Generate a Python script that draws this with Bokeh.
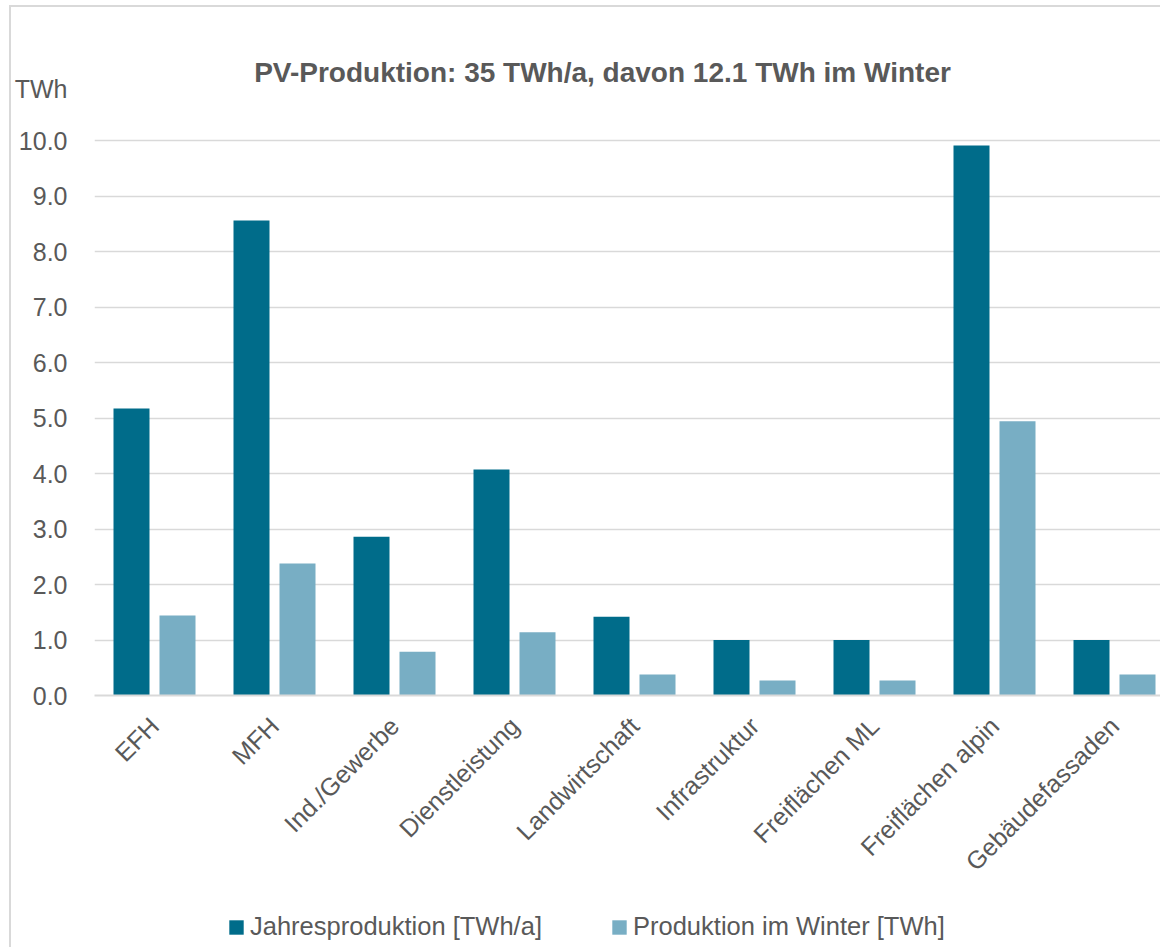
import math
from bokeh.plotting import figure
from bokeh.layouts import column
from bokeh.models import Range1d, FixedTicker, Label, Legend, LegendItem
from bokeh.embed import file_html
from bokeh.resources import INLINE

categories = ["EFH", "MFH", "Ind./Gewerbe", "Dienstleistung", "Landwirtschaft",
              "Infrastruktur", "Freiflächen ML", "Freiflächen alpin", "Gebäudefassaden"]
jahresproduktion = [5.17, 8.56, 2.86, 4.07, 1.42, 1.0, 1.0, 9.91, 1.0]
winterproduktion = [1.44, 2.38, 0.79, 1.14, 0.38, 0.27, 0.27, 4.94, 0.38]
y_ticks = [0, 1, 2, 3, 4, 5, 6, 7, 8, 9, 10]
y_tick_labels = ["0.0", "1.0", "2.0", "3.0", "4.0", "5.0", "6.0", "7.0", "8.0", "9.0", "10.0"]
title_text = "PV-Produktion: 35 TWh/a, davon 12.1 TWh im Winter"
y_unit = "TWh"
series_names = ["Jahresproduktion [TWh/a]", "Produktion im Winter [TWh]"]

DARK = "#006C8A"
LIGHT = "#78AEC4"
GRAY = "#595959"
GRID = "#d9d9d9"
FONT = "Liberation Sans"

MARGIN_L, MARGIN_T, BORDER = 9, 5, 2
OX, OY = MARGIN_L + BORDER, MARGIN_T + BORDER
PX_PER_CAT = 120.0
PX_PER_UNIT = 55.5
W, H = 1160 - OX, 947 - OY
FRAME_LEFT = 94 - OX
FRAME_BOTTOM = 695 - OY
H1 = FRAME_BOTTOM + 200
H2 = H - H1

x_end = -0.5 + (W - FRAME_LEFT) / PX_PER_CAT
y_end = FRAME_BOTTOM / PX_PER_UNIT

p = figure(width=W, height=H1, output_backend="svg", toolbar_location=None,
           x_range=Range1d(-0.5, x_end), y_range=Range1d(0, y_end),
           min_border_left=FRAME_LEFT, min_border_right=0,
           min_border_top=0, min_border_bottom=H1 - FRAME_BOTTOM)

xs = list(range(len(categories)))
off = 23 / PX_PER_CAT
bw = 36 / PX_PER_CAT
r1 = p.vbar(x=[x - off for x in xs], top=jahresproduktion, width=bw,
            fill_color=DARK, line_color=None)
r2 = p.vbar(x=[x + off for x in xs], top=winterproduktion, width=bw,
            fill_color=LIGHT, line_color=None)

p.outline_line_color = None
p.xgrid.grid_line_color = None
p.ygrid.grid_line_color = GRID
p.ygrid.grid_line_width = 1.5
p.ygrid.ticker = FixedTicker(ticks=y_ticks)

unit_y = (695 - 88) / PX_PER_UNIT
ya = p.yaxis[0]
ya.ticker = FixedTicker(ticks=y_ticks + [unit_y])
overrides = {t: l for t, l in zip(y_ticks, y_tick_labels)}
overrides[unit_y] = y_unit
ya.major_label_overrides = overrides
ya.axis_line_color = None
ya.major_tick_line_color = None
ya.minor_tick_line_color = None
ya.major_tick_out = 0
ya.minor_tick_out = 0
ya.major_label_standoff = 27
ya.major_label_text_font = FONT
ya.major_label_text_font_size = "25px"
ya.major_label_text_color = GRAY

xa = p.xaxis[0]
xa.ticker = FixedTicker(ticks=xs)
xa.major_label_overrides = {i: c for i, c in zip(xs, categories)}
xa.major_label_orientation = math.pi / 4
xa.axis_line_color = GRID
xa.axis_line_width = 2
xa.major_tick_line_color = None
xa.minor_tick_line_color = None
xa.major_tick_out = 0
xa.minor_tick_out = 0
xa.major_label_standoff = 26
xa.major_label_text_font = FONT
xa.major_label_text_font_size = "25px"
xa.major_label_text_color = GRAY

p.add_layout(Label(x=-0.5 + (602 - 94) / PX_PER_CAT, y=(695 - 72) / PX_PER_UNIT,
                   text=title_text, text_align="center", text_baseline="middle",
                   text_font=FONT, text_font_style="bold", text_font_size="28px",
                   text_color=GRAY))

# legend strip below the chart (its frame is aligned with the chart frame)
q = figure(width=W, height=H2, output_backend="svg", toolbar_location=None,
           x_axis_type=None, y_axis_type=None, min_border=0,
           x_range=Range1d(-30, -29), y_range=Range1d(0, 1))
q.outline_line_color = None
q.grid.visible = False
l1 = q.vbar(x=xs, top=jahresproduktion, width=bw, fill_color=DARK, line_color=None)
l2 = q.vbar(x=xs, top=winterproduktion, width=bw, fill_color=LIGHT, line_color=None)
legend = Legend(items=[LegendItem(label=series_names[0], renderers=[l1]),
                       LegendItem(label=series_names[1], renderers=[l2])],
                orientation="horizontal", location=(227 - 94, 6),
                glyph_width=18, glyph_height=18, label_standoff=5,
                label_width=300, spacing=610 - 227 - 23 - 300,
                padding=0, margin=0, border_line_color=None, background_fill_alpha=0,
                label_text_font=FONT, label_text_font_size="25.5px", label_text_color=GRAY)
q.add_layout(legend)

layout = column(p, q, spacing=0,
                styles={"border-left": "2px solid #d9d9d9", "border-top": "2px solid #d9d9d9",
                        "margin-left": "%dpx" % MARGIN_L, "margin-top": "%dpx" % MARGIN_T})

open("out.html", "w").write(file_html(layout, INLINE))
